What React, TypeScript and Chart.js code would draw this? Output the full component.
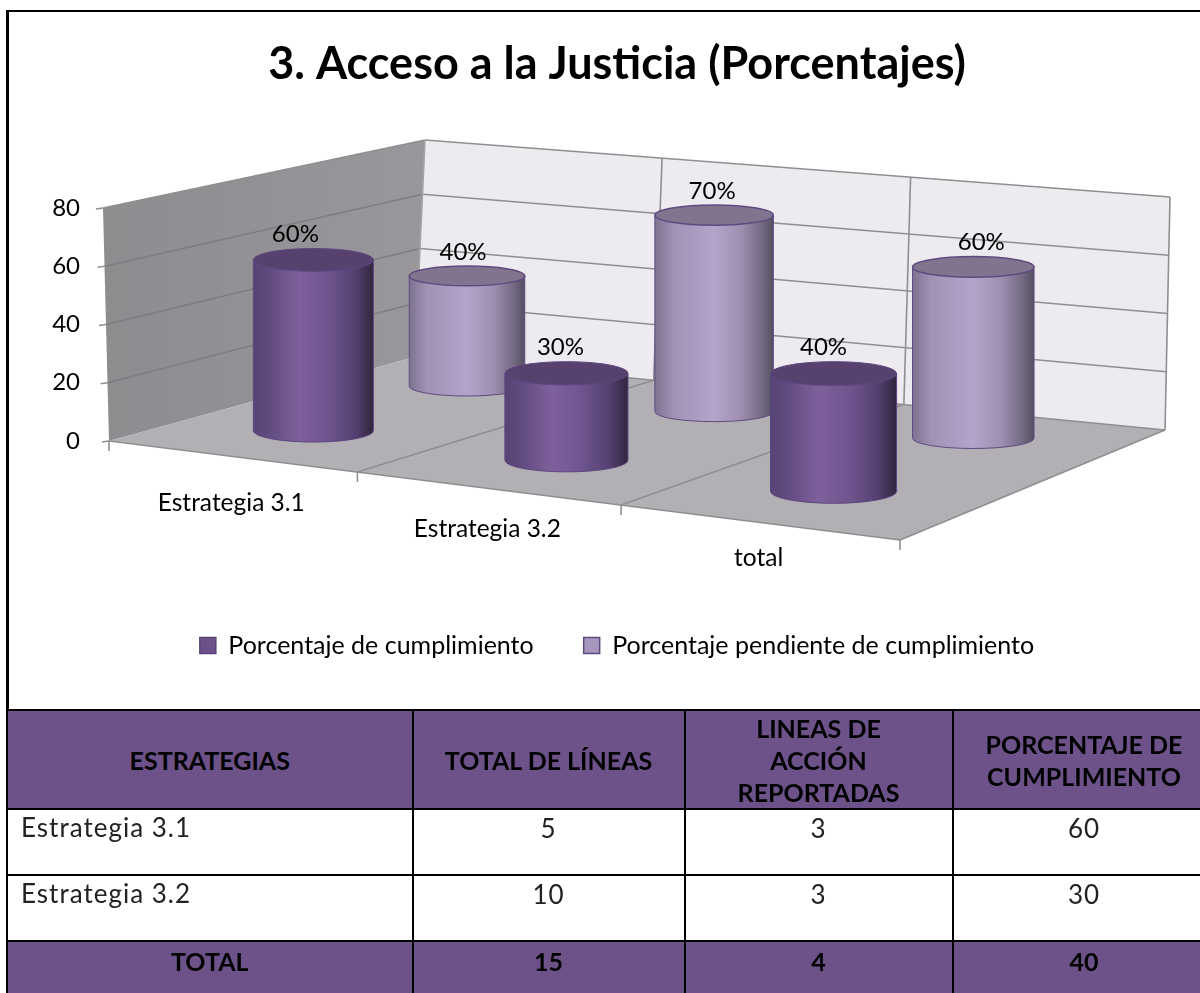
import React, { useEffect, useRef } from "react";
import { Chart, registerables } from "chart.js";

Chart.register(...registerables);

const TITLE = "3. Acceso a la Justicia (Porcentajes)";
const categories = ["Estrategia 3.1", "Estrategia 3.2", "total"];
const seriesNames = ["Porcentaje de cumplimiento", "Porcentaje pendiente de cumplimiento"];
const cumplimiento = [60, 30, 40];
const pendiente = [40, 70, 60];
const yTicks = [0, 20, 40, 60, 80];

const tableHead = ["ESTRATEGIAS", "TOTAL DE LÍNEAS", "LINEAS DE\nACCIÓN\nREPORTADAS", "PORCENTAJE DE\nCUMPLIMIENTO"];
const rowEstrategia1 = ["Estrategia 3.1", "5", "3", "60"];
const rowEstrategia2 = ["Estrategia 3.2", "10", "3", "30"];
const rowTotal = ["TOTAL", "15", "4", "40"];

// 3D frame of the plot (projection of the box the scales are mapped into)
const FLOOR = { fl: [109, 441], fr: [900, 540], br: [1165, 430], bl: [415, 357] };
const TOP = { fl: [103, 208], bl: [425, 140], br: [1170, 197] };
const SERIES_DEPTH = [0.27, 0.78];
const SERIES_SHIFT = [-6, -5];
const LABEL_NUDGE = [[-18, -6, -10], [-4, -2, 8]];
const FONT = "Lato";

function homography(q: typeof FLOOR) {
  const [x0, y0] = q.fl, [x1, y1] = q.fr, [x2, y2] = q.br, [x3, y3] = q.bl;
  const dx1 = x1 - x2, dx2 = x3 - x2, sx = x0 - x1 + x2 - x3;
  const dy1 = y1 - y2, dy2 = y3 - y2, sy = y0 - y1 + y2 - y3;
  const det = dx1 * dy2 - dx2 * dy1;
  const g = (sx * dy2 - dx2 * sy) / det, h = (dx1 * sy - sx * dy1) / det;
  const a = x1 - x0 + g * x1, b = x3 - x0 + h * x3, d = y1 - y0 + g * y1, e = y3 - y0 + h * y3;
  return (u0: number, v: number) => {
    const u = u0 + 0.09 * u0 * (1 - u0);
    const w = g * u + h * v + 1;
    return [(a * u + b * v + x0) / w, (d * u + e * v + y0) / w];
  };
}
const floorAt = homography(FLOOR);
const lerp = (p: number[], q: number[], t: number) => [p[0] + (q[0] - p[0]) * t, p[1] + (q[1] - p[1]) * t];

const bodyStops = [
  [[0, "#574474"], [0.12, "#5f4a7e"], [0.38, "#7e609c"], [0.62, "#6f5590"], [0.85, "#54406f"], [1, "#30253f"]],
  [[0, "#7d7290"], [0.15, "#a091b5"], [0.5, "#b3a4ca"], [0.72, "#9f90b2"], [0.9, "#756b85"], [1, "#55505f"]],
];
const topColor = ["#57426f", "#80748f"];
const edgeColor = ["#5e4780", "#5f4a80"];

const plot3d = {
  id: "plot3d",
  beforeDatasetsDraw(chart: any) {
    const { ctx, scales } = chart;
    const y = scales.y;
    const frac = (v: number) => (y.getPixelForValue(0) - y.getPixelForValue(v)) / (y.getPixelForValue(0) - y.getPixelForValue(80));
    ctx.save();
    // left wall
    const lw = ctx.createLinearGradient(FLOOR.fl[0], 0, FLOOR.bl[0], 0);
    lw.addColorStop(0, "#8d8c8f");
    lw.addColorStop(1, "#99979b");
    ctx.fillStyle = lw;
    ctx.beginPath();
    ctx.moveTo(FLOOR.fl[0], FLOOR.fl[1]); ctx.lineTo(TOP.fl[0], TOP.fl[1]); ctx.lineTo(TOP.bl[0], TOP.bl[1]); ctx.lineTo(FLOOR.bl[0], FLOOR.bl[1]);
    ctx.closePath(); ctx.fill();
    // back wall
    ctx.fillStyle = "#edebf0";
    ctx.beginPath();
    ctx.moveTo(FLOOR.bl[0], FLOOR.bl[1]); ctx.lineTo(TOP.bl[0], TOP.bl[1]); ctx.lineTo(TOP.br[0], TOP.br[1]); ctx.lineTo(FLOOR.br[0], FLOOR.br[1]);
    ctx.closePath(); ctx.fill();
    // floor
    ctx.fillStyle = "#b2b0b4";
    ctx.beginPath();
    ctx.moveTo(FLOOR.fl[0], FLOOR.fl[1]); ctx.lineTo(FLOOR.fr[0], FLOOR.fr[1]); ctx.lineTo(FLOOR.br[0], FLOOR.br[1]); ctx.lineTo(FLOOR.bl[0], FLOOR.bl[1]);
    ctx.closePath(); ctx.fill();

    ctx.lineWidth = 1.6;
    const seg = (p: number[], q: number[], color?: string) => {
      ctx.strokeStyle = color || "#8f8f8f";
      ctx.beginPath(); ctx.moveTo(p[0], p[1]); ctx.lineTo(q[0], q[1]); ctx.stroke();
    };
    yTicks.forEach((v) => {
      const t = frac(v);
      const a = lerp(FLOOR.fl, TOP.fl, t), b = lerp(FLOOR.bl, TOP.bl, t), c = lerp(FLOOR.br, TOP.br, t);
      if (v > 0) seg(a, b, v === 80 ? "#8f8f8f" : "#7e7d80");
      if (v > 0) seg(b, c);
      seg([a[0] - 7, a[1] + 1], a);
    });
    seg(FLOOR.bl, TOP.bl, "#a5a5a5");
    seg(FLOOR.br, TOP.br);
    // category dividers
    [1, 2].forEach((k) => {
      const base = floorAt(k / 3, 1);
      const s = (base[0] - FLOOR.bl[0]) / (FLOOR.br[0] - FLOOR.bl[0]);
      seg(base, lerp(TOP.bl, TOP.br, s));
      seg(floorAt(k / 3, 0), base);
    });
    seg(FLOOR.fl, FLOOR.fr);
    seg(FLOOR.fr, FLOOR.br);
    seg(FLOOR.bl, FLOOR.br);
    [0, 1, 2, 3].forEach((k) => {
      const p = floorAt(k / 3, 0);
      seg(p, [p[0], p[1] + 10]);
    });
    // category labels
    ctx.fillStyle = "#000";
    ctx.font = `24.5px ${FONT}`;
    ctx.textAlign = "center";
    ctx.textBaseline = "middle";
    const x = scales.x;
    chart.data.labels.forEach((lab: string, j: number) => {
      const u = (x.getPixelForValue(j) - x.left) / (x.right - x.left);
      const p = floorAt(u, 0);
      ctx.fillText(lab, p[0], p[1] + 46.5 - 16 * (u - 1 / 6));
    });
    ctx.restore();
  },
  beforeDatasetDraw() {
    return false;
  },
  afterDatasetsDraw(chart: any) {
    const { ctx, scales } = chart;
    const x = scales.x, y = scales.y;
    const texts: any[] = [];
    ctx.save();
    // back row first
    for (const i of [1, 0]) {
      chart.data.datasets[i].data.forEach((val: number, j: number) => {
        const u = (x.getPixelForValue(j) - x.left) / (x.right - x.left);
        const v = SERIES_DEPTH[i];
        const base = floorAt(u, v);
        const cx = base[0] + SERIES_SHIFT[i];
        const by = base[1];
        const persp = 0.98 + 0.05 * (u - 0.5) - 0.06 * (v - 0.5);
        const h = (y.getPixelForValue(0) - y.getPixelForValue(val)) * persp;
        const hw = 60.5 + 4.5 * (u - v);
        const ry = hw * (i === 0 ? 0.19 : 0.17);
        const ty = by - h;
        const grad = ctx.createLinearGradient(cx - hw, 0, cx + hw, 0);
        bodyStops[i].forEach((s: any) => grad.addColorStop(s[0], s[1]));
        ctx.fillStyle = grad;
        ctx.beginPath();
        ctx.moveTo(cx - hw, ty);
        ctx.lineTo(cx - hw, by);
        ctx.ellipse(cx, by, hw, ry, 0, Math.PI, 0, true);
        ctx.lineTo(cx + hw, ty);
        ctx.closePath();
        ctx.fill();
        ctx.strokeStyle = edgeColor[i];
        ctx.lineWidth = 1;
        ctx.stroke();
        ctx.fillStyle = topColor[i];
        ctx.beginPath();
        ctx.ellipse(cx, ty, hw, ry, 0, 0, Math.PI * 2);
        ctx.fill();
        ctx.lineWidth = i === 0 ? 1 : 1.5;
        ctx.stroke();
        texts.push([`${val}%`, cx + LABEL_NUDGE[i][j], ty - ry - 14]);
      });
    }
    ctx.fillStyle = "#000";
    ctx.font = `24px ${FONT}`;
    ctx.textAlign = "center";
    ctx.textBaseline = "middle";
    texts.forEach((t) => ctx.fillText(t[0], t[1], t[2]));
    ctx.restore();
  },
};

const cellBorder = "2.5px solid #000";
const headBg = "#6c5289";
const rowHeights = [99, 66, 66, 60];

function Row({ cells, head, height, bottomPad }: { cells: string[]; head?: boolean; height: number; bottomPad?: number }) {
  return (
    <tr style={{ background: head ? headBg : "#fff", height }}>
      {cells.map((c, i) => (
        <td
          key={i}
          style={{
            border: cellBorder,
            padding: head ? `0 0 ${bottomPad || 0}px 0` : i === 0 ? "2px 13px" : "3px 4px",
            textAlign: head || i > 0 ? "center" : "left",
            verticalAlign: head ? "middle" : "top",
            fontWeight: head ? 700 : 400,
            lineHeight: head ? "32px" : "30px",
            fontSize: head ? 25 : 26,
            letterSpacing: head ? 0 : 1,
            color: head ? "#000" : "#222",
            whiteSpace: "pre-line",
            boxSizing: "border-box",
            overflow: "hidden",
          }}
        >
          {c}
        </td>
      ))}
    </tr>
  );
}

export default function App() {
  const ref = useRef<HTMLCanvasElement>(null);
  useEffect(() => {
    const chart = new Chart(ref.current as HTMLCanvasElement, {
      type: "bar",
      data: {
        labels: categories,
        datasets: [
          { label: seriesNames[0], data: cumplimiento, backgroundColor: "#6c5289", borderColor: "#5a437a", borderWidth: 1.5 },
          { label: seriesNames[1], data: pendiente, backgroundColor: "#a797bf", borderColor: "#5f4a80", borderWidth: 1.5 },
        ],
      },
      plugins: [plot3d],
      options: {
        animation: false,
        responsive: false,
        layout: { padding: { left: 34, top: 37, right: 0, bottom: 325 } },
        plugins: {
          tooltip: { enabled: false },
          title: {
            display: true,
            text: TITLE,
            color: "#000",
            font: { family: FONT, size: 45, weight: "bold", lineHeight: 1.2 },
            padding: { top: 0, bottom: 117 },
          },
          legend: {
            position: "bottom",
            labels: {
              color: "#000",
              boxWidth: 16,
              boxHeight: 16,
              padding: 50,
              font: { family: FONT, size: 25 },
            },
          },
        },
        scales: {
          x: {
            display: true,
            grid: { display: false },
            border: { display: false },
            ticks: { display: false },
            afterFit: (s: any) => {
              s.height = 142;
            },
          },
          y: {
            min: 0,
            max: 80,
            afterBuildTicks: (s: any) => {
              s.ticks = yTicks.map((value) => ({ value }));
            },
            grid: { display: false },
            border: { display: false },
            ticks: { color: "#000", padding: 15, font: { family: FONT, size: 24 } },
            afterFit: (s: any) => {
              s.width = 69;
            },
          },
        },
      } as any,
    });
    return () => chart.destroy();
  }, []);

  return (
    <div style={{ position: "absolute", left: 0, top: 0, width: 1200, height: 993, overflow: "hidden", background: "#fff" }}>
      <canvas ref={ref} width={1200} height={993} style={{ position: "absolute", left: 0, top: 0, width: 1200, height: 993 }} />
      <div style={{ position: "absolute", left: 6, top: 10, width: 2.5, height: 983, background: "#000" }} />
      <div style={{ position: "absolute", left: 6, top: 10, width: 1194, height: 1.5, background: "#000" }} />
      <table
        style={{
          position: "absolute",
          left: 6,
          top: 709,
          width: 1208.5,
          borderCollapse: "collapse",
          tableLayout: "fixed",
          fontFamily: "Lato",
        }}
      >
        <colgroup>
          <col style={{ width: 405.5 }} />
          <col style={{ width: 272 }} />
          <col style={{ width: 268 }} />
          <col style={{ width: 263 }} />
        </colgroup>
        <tbody>
          <Row cells={tableHead} head height={rowHeights[0]} />
          <Row cells={rowEstrategia1} height={rowHeights[1]} />
          <Row cells={rowEstrategia2} height={rowHeights[2]} />
          <Row cells={rowTotal} head height={rowHeights[3]} bottomPad={20} />
        </tbody>
      </table>
    </div>
  );
}
